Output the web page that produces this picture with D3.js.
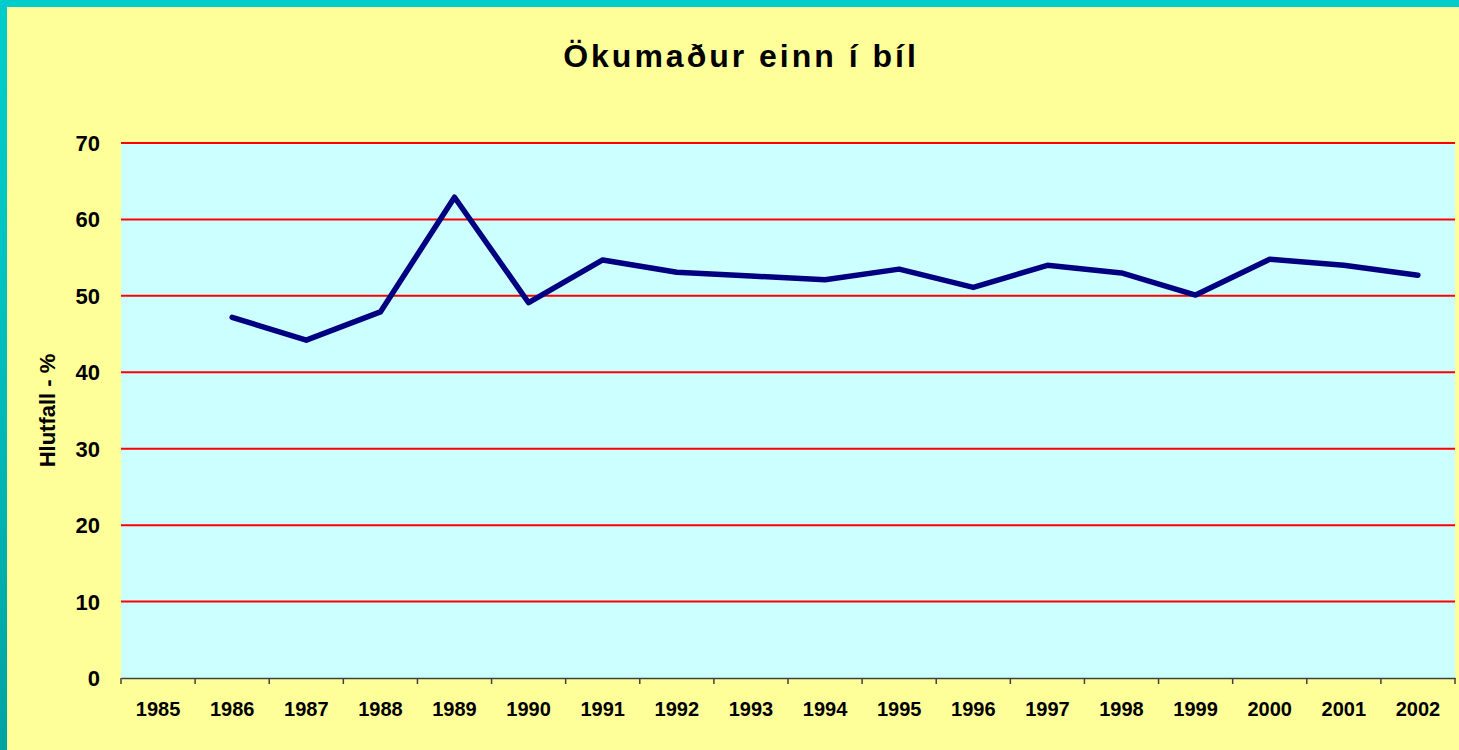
<!DOCTYPE html>
<html lang="is">
<head>
<meta charset="utf-8">
<title>Ökumaður einn í bíl</title>
<script src="https://cdn.jsdelivr.net/npm/d3@7/dist/d3.min.js"></script>
<style>
  body { margin: 0; background: #ffff99; overflow: hidden; }
  svg { display: block; font-family: "Liberation Sans", Arial, sans-serif; }
</style>
</head>
<body>
<script>
// data
var years = ["1985", "1986", "1987", "1988", "1989", "1990", "1991", "1992", "1993",
             "1994", "1995", "1996", "1997", "1998", "1999", "2000", "2001", "2002"];
var lineYears = ["1986", "1987", "1988", "1989", "1990", "1991", "1992", "1993", "1994",
                 "1995", "1996", "1997", "1998", "1999", "2000", "2001", "2002"];
var shares = [47.2, 44.2, 47.9, 62.9, 49.1, 54.7, 53.1, 52.6, 52.1,
              53.5, 51.1, 54.0, 53.0, 50.1, 54.8, 54.0, 52.7];
var yTicks = [0, 10, 20, 30, 40, 50, 60, 70];

var W = 1459, H = 750;
var margin = {top: 143, right: 4, bottom: 72, left: 121};
var w = W - margin.left - margin.right;
var h = H - margin.top - margin.bottom;

var svg = d3.select("body").append("svg")
    .attr("width", W)
    .attr("height", H);

var defs = svg.append("defs");
var grad = defs.append("linearGradient")
    .attr("id", "edge")
    .attr("x1", 0).attr("y1", 0).attr("x2", 0).attr("y2", 1);
grad.append("stop").attr("offset", "0%").attr("stop-color", "#00cccc");
grad.append("stop").attr("offset", "30%").attr("stop-color", "#00c5c5");
grad.append("stop").attr("offset", "100%").attr("stop-color", "#00a2a2");

// background and teal edges
svg.append("rect").attr("width", W).attr("height", H).attr("fill", "#ffff99");
svg.append("rect").attr("x", 0).attr("y", 0).attr("width", 7).attr("height", H).attr("fill", "url(#edge)");
svg.append("rect").attr("x", 0).attr("y", 0).attr("width", W).attr("height", 7).attr("fill", "#00cccc");

var x = d3.scaleBand().domain(years).range([0, w]).padding(0);
var y = d3.scaleLinear().domain([0, 70]).range([h, 0]);

var g = svg.append("g")
    .attr("transform", "translate(" + margin.left + "," + margin.top + ")");

g.append("rect")
    .attr("width", w)
    .attr("height", h)
    .attr("fill", "#ccffff");

// red gridlines
g.selectAll(".grid")
    .data(yTicks.filter(function(d) { return d > 0; }))
  .enter().append("line")
    .attr("class", "grid")
    .attr("x1", 0).attr("x2", w)
    .attr("y1", function(d) { return y(d); })
    .attr("y2", function(d) { return y(d); })
    .attr("stroke", "#ff0000")
    .attr("stroke-width", 2);

// y labels
g.selectAll(".ylab")
    .data(yTicks)
  .enter().append("text")
    .attr("class", "ylab")
    .attr("x", -21)
    .attr("y", function(d) { return y(d) + 8; })
    .attr("text-anchor", "end")
    .attr("font-size", 22)
    .attr("font-weight", "bold")
    .text(function(d) { return d; });

// x axis
var xAxis = d3.axisBottom(x).tickSize(0).tickPadding(0);
var ax = g.append("g")
    .attr("transform", "translate(0," + h + ")")
    .call(xAxis);
ax.select(".domain").attr("stroke", "#404040").attr("stroke-width", 1.5);
ax.selectAll(".tick text")
    .attr("y", 38)
    .attr("dy", 0)
    .attr("font-size", 20)
    .attr("font-weight", "bold")
    .attr("font-family", "Liberation Sans, Arial, sans-serif")
    .attr("fill", "#000");

// category boundary ticks
var bounds = years.concat(["end"]);
ax.selectAll(".bt")
    .data(bounds)
  .enter().append("line")
    .attr("class", "bt")
    .attr("x1", function(d, i) { return i * x.bandwidth(); })
    .attr("x2", function(d, i) { return i * x.bandwidth(); })
    .attr("y1", 0).attr("y2", 6)
    .attr("stroke", "#404040")
    .attr("stroke-width", 1.5);

// line
var pts = lineYears.map(function(yr, i) { return {year: yr, v: shares[i]}; });
var line = d3.line()
    .x(function(d) { return x(d.year) + x.bandwidth() / 2; })
    .y(function(d) { return y(d.v); });

g.append("path")
    .datum(pts)
    .attr("d", line)
    .attr("fill", "none")
    .attr("stroke", "#000080")
    .attr("stroke-width", 5.5)
    .attr("stroke-linejoin", "round")
    .attr("stroke-linecap", "round");

// titles
svg.append("text")
    .attr("x", 741)
    .attr("y", 67)
    .attr("text-anchor", "middle")
    .attr("font-size", 32)
    .attr("font-weight", "bold")
    .attr("letter-spacing", 3)
    .text("Ökumaður einn í bíl");

svg.append("text")
    .attr("transform", "translate(55," + (margin.top + h / 2) + ") rotate(-90)")
    .attr("text-anchor", "middle")
    .attr("font-size", 22)
    .attr("font-weight", "bold")
    .text("Hlutfall - %");
</script>
</body>
</html>
